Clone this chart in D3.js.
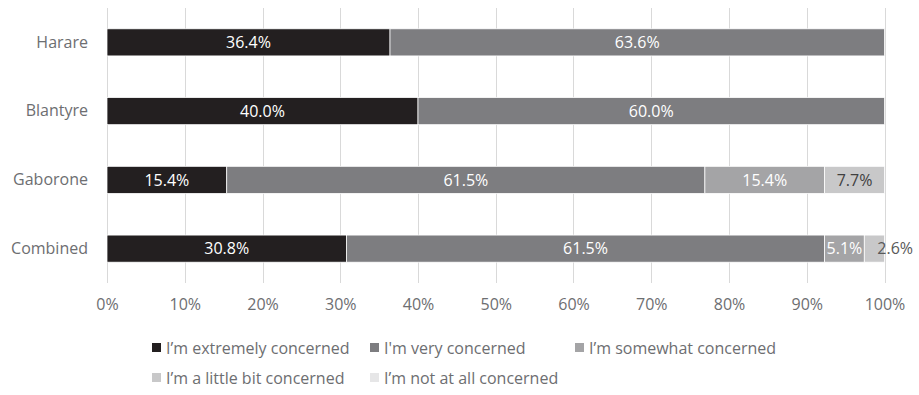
<!DOCTYPE html>
<html>
<head>
<meta charset="utf-8">
<script src="https://cdn.jsdelivr.net/npm/d3@7"></script>
<style>
  html, body { margin: 0; padding: 0; background: #fff; }
  svg { display: block; }
  text { font-family: "Open Sans", sans-serif; }
</style>
</head>
<body>
<svg id="chart" width="919" height="395"></svg>
<script>
const categories = ["Harare", "Blantyre", "Gaborone", "Combined"];
const seriesNames = ["I\u2019m extremely concerned", "I'm very concerned", "I\u2019m somewhat concerned", "I\u2019m a little bit concerned", "I\u2019m not at all concerned"];
const extremely = [36.4, 40.0, 15.4, 30.8];
const very = [63.6, 60.0, 61.5, 61.5];
const somewhat = [0, 0, 15.4, 5.1];
const littleBit = [0, 0, 7.7, 2.6];
const notAtAll = [0, 0, 0, 0];
const tickValues = [0, 10, 20, 30, 40, 50, 60, 70, 80, 90, 100];

const colors = ["#231f20", "#7d7d80", "#a4a4a6", "#c8c8c9", "#e6e6e7"];
const labelColors = ["#ffffff", "#ffffff", "#ffffff", "#404040", "#404040"];
const seriesValues = [extremely, very, somewhat, littleBit, notAtAll];
const FS = "16px";

const svg = d3.select("#chart");
const plotLeft = 107, plotRight = 884.5, plotTop = 8, plotBottom = 283;

const x = d3.scaleLinear().domain([0, 100]).range([plotLeft, plotRight]);
const y = d3.scaleBand().domain(categories).range([plotTop, plotBottom]).paddingInner(0.606).paddingOuter(0.303);

// gridlines
svg.append("g").selectAll("line").data(tickValues).join("line")
  .attr("x1", d => Math.round(x(d)) + 0.5).attr("x2", d => Math.round(x(d)) + 0.5)
  .attr("y1", plotTop).attr("y2", plotBottom)
  .attr("stroke", "#d9d9d9").attr("stroke-width", 1);

// x axis labels
const xAxis = d3.axisBottom(x).tickValues(tickValues).tickFormat(d => d + "%").tickSize(0).tickPadding(0);
const gx = svg.append("g").attr("transform", `translate(0, ${plotBottom + 16})`).call(xAxis);
gx.select(".domain").remove();
gx.selectAll("text").attr("fill", "#6d6e71").attr("font-size", FS).attr("font-family", "Open Sans, sans-serif").attr("dy", "0.71em");

// y axis labels
const yAxis = d3.axisLeft(y).tickSize(0).tickPadding(19);
const gy = svg.append("g").attr("transform", `translate(${plotLeft}, 0)`).call(yAxis);
gy.select(".domain").remove();
gy.selectAll("text").attr("fill", "#6d6e71").attr("font-size", FS).attr("font-family", "Open Sans, sans-serif");

// stack
const rows = categories.map((c, i) => {
  const r = { cat: c };
  seriesValues.forEach((s, k) => r["s" + k] = s[i]);
  return r;
});
const keys = seriesValues.map((s, k) => "s" + k);
const stacked = d3.stack().keys(keys)(rows);

const layers = svg.append("g").selectAll("g").data(stacked).join("g")
  .attr("fill", (d, k) => colors[k]);
layers.selectAll("rect").data(d => d.filter(p => p[1] - p[0] > 0)).join("rect")
  .attr("x", p => x(p[0]))
  .attr("width", p => x(p[1]) - x(p[0]))
  .attr("y", p => y(p.data.cat))
  .attr("height", y.bandwidth())
  .attr("stroke", "#ffffff").attr("stroke-width", 0.75);

// data labels
const labelG = svg.append("g");
stacked.forEach((layer, k) => {
  layer.forEach(p => {
    const v = p[1] - p[0];
    if (v <= 0) return;
    const x0 = x(p[0]), x1 = x(p[1]);
    const t = labelG.append("text")
      .attr("y", y(p.data.cat) + y.bandwidth() / 2)
      .attr("dy", "0.36em")
      .attr("font-size", FS)
      .attr("fill", labelColors[k])
      .text(v.toFixed(1) + "%");
    const w = t.node().getComputedTextLength();
    if (w > (x1 - x0) + 4) {
      t.attr("x", x0 + 13).attr("text-anchor", "start").attr("fill", "#595959");
    } else {
      t.attr("x", (x0 + x1) / 2).attr("text-anchor", "middle");
    }
  });
});

// legend
const legendPos = [[152, 348], [370, 348], [575, 348], [152, 378], [370, 378]];
const lg = svg.append("g");
seriesNames.forEach((name, k) => {
  const [lx, ly] = legendPos[k];
  lg.append("rect").attr("x", lx).attr("y", ly - 5).attr("width", 9).attr("height", 9).attr("fill", colors[k]);
  lg.append("text").attr("x", lx + 14).attr("y", ly).attr("dy", "0.36em")
    .attr("font-size", FS).attr("fill", "#6d6e71").text(name);
});
</script>
</body>
</html>
